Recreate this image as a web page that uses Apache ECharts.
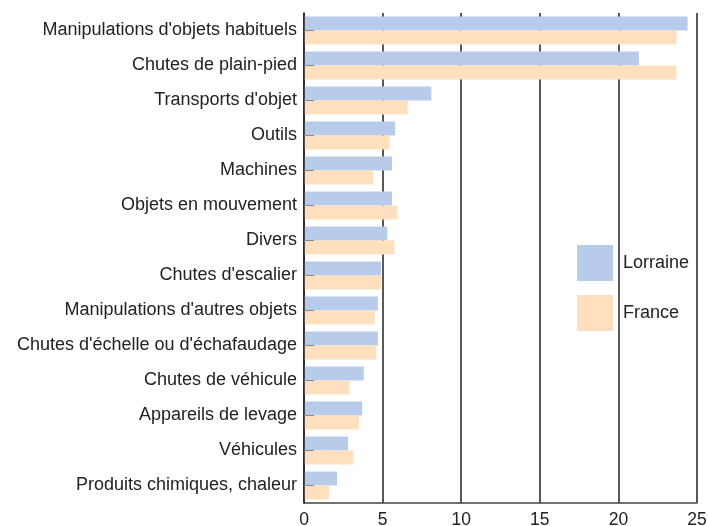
<!DOCTYPE html>
<html>
<head>
<meta charset="utf-8">
<script src="https://cdn.jsdelivr.net/npm/echarts@6/dist/echarts.min.js"></script>
<style>
  html, body { margin: 0; padding: 0; background: #fff; }
  #chart { width: 708px; height: 526px; }
</style>
</head>
<body>
<div id="chart"></div>
<script>
// catégories (de haut en bas)
const categories = [
    "Manipulations d'objets habituels",
    "Chutes de plain-pied",
    "Transports d'objet",
    "Outils",
    "Machines",
    "Objets en mouvement",
    "Divers",
    "Chutes d'escalier",
    "Manipulations d'autres objets",
    "Chutes d'échelle ou d'échafaudage",
    "Chutes de véhicule",
    "Appareils de levage",
    "Véhicules",
    "Produits chimiques, chaleur"
];
const lorraine = [24.4, 21.3, 8.1, 5.8, 5.6, 5.6, 5.3, 4.9, 4.7, 4.7, 3.8, 3.7, 2.8, 2.1];
const france = [23.7, 23.7, 6.6, 5.45, 4.4, 5.95, 5.75, 4.9, 4.5, 4.6, 2.9, 3.5, 3.15, 1.6];
const xTicks = { min: 0, max: 25, interval: 5 };

const chart = echarts.init(document.getElementById('chart'));
const option = {
    animation: false,
    textStyle: { fontFamily: 'Liberation Sans, Arial, sans-serif' },
    grid: { left: 304, right: 11, top: 13, bottom: 23, containLabel: false, outerBoundsMode: 'none' },
    legend: {
        orient: 'vertical',
        left: 577,
        top: 245,
        padding: 0,
        itemWidth: 36,
        itemHeight: 36,
        itemGap: 14,
        icon: 'rect',
        textStyle: { fontSize: 18, color: '#222', padding: [4, 0, 0, 5] },
        data: ['Lorraine', 'France']
    },
    xAxis: {
        type: 'value',
        min: xTicks.min,
        max: xTicks.max,
        interval: xTicks.interval,
        axisLine: { show: true, lineStyle: { color: '#444', width: 1.5 } },
        axisTick: { show: false },
        axisLabel: { fontSize: 17.5, color: '#222', margin: 8 },
        splitLine: { show: true, lineStyle: { color: '#222', width: 1.5 } }
    },
    yAxis: {
        type: 'category',
        inverse: true,
        data: categories,
        z: 3,
        axisLine: { show: true, lineStyle: { color: '#222', width: 1.5 } },
        axisTick: { show: true, inside: true, alignWithLabel: true, length: 10, lineStyle: { color: '#888' } },
        axisLabel: { fontSize: 18, color: '#222', margin: 7, padding: [3, 0, 0, 0] }
    },
    series: [
        {
            name: 'Lorraine',
            type: 'bar',
            data: lorraine,
            barWidth: 14,
            barGap: '0%',
            itemStyle: { color: '#b8cbea' }
        },
        {
            name: 'France',
            type: 'bar',
            data: france,
            barWidth: 14,
            barGap: '0%',
            itemStyle: { color: '#fee0bf' }
        }
    ]
};
chart.setOption(option);
</script>
</body>
</html>
